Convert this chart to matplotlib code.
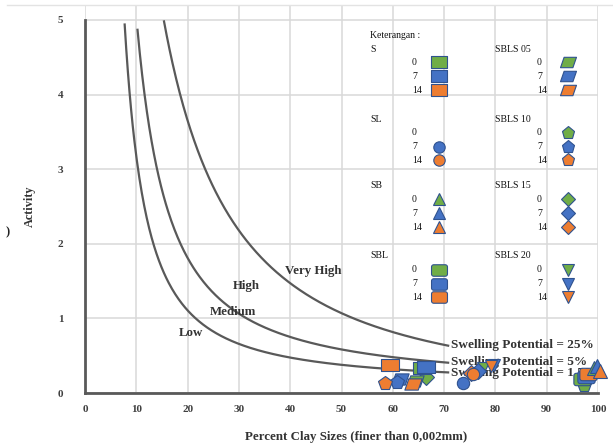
import numpy as np
import matplotlib
matplotlib.use("Agg")
import matplotlib.pyplot as plt
from matplotlib.path import Path
from matplotlib.lines import Line2D

# ---------------- data ----------------
soils = ['S', 'SL', 'SB', 'SBL', 'SBLS 05', 'SBLS 10', 'SBLS 15', 'SBLS 20']
days = ['0', '7', '14']
day_colors = ['#70AD47', '#4472C4', '#ED7D31']

clay = {
    'S':       [65.6, 66.5, 59.4],
    'SL':      [np.nan, 73.7, 75.7],
    'SB':      [99.3, 99.8, 100.3],
    'SBL':     [96.8, 97.6, 98.0],
    'SBLS 05': [64.3, 61.5, 63.9],
    'SBLS 10': [97.3, 60.8, 58.5],
    'SBLS 15': [66.5, 76.6, 75.2],
    'SBLS 20': [77.6, 79.7, 79.2],
}
activity = {
    'S':       [0.33, 0.35, 0.375],
    'SL':      [np.nan, 0.13, 0.26],
    'SB':      [0.33, 0.36, 0.29],
    'SBL':     [0.19, 0.22, 0.25],
    'SBLS 05': [0.16, 0.19, 0.12],
    'SBLS 10': [0.11, 0.15, 0.13],
    'SBLS 15': [0.22, 0.30, 0.27],
    'SBLS 20': [0.33, 0.38, 0.36],
}

# boundary curves
c15_clay = [7.7, 8.7, 10.4, 21.0, 42.1, 71.0]
c15_act = [5.0, 4.0, 3.0, 1.0, 0.47, 0.27]
c5_clay = [9.9, 11.7, 14.3, 30.3, 42.1, 71.0]
c5_act = [5.0, 4.0, 3.0, 1.05, 0.69, 0.41]
c25_clay = [15.1, 18.9, 23.5, 32.3, 42.1, 51.9, 71.0]
c25_act = [5.0, 4.0, 3.0, 2.0, 1.34, 1.0, 0.64]
curve_labels = ['Swelling Potential = 1.5%', 'Swelling Potential = 5%', 'Swelling Potential = 25%']

region_labels = ['Low', 'Medium', 'High', 'Very High']
region_x = [20.6, 28.8, 31.4, 44.4]
region_y = [0.81, 1.09, 1.43, 1.64]

x_ticks = [0, 10, 20, 30, 40, 50, 60, 70, 80, 90, 100]
y_ticks = [0, 1, 2, 3, 4, 5]

# ---------------- marker shapes ----------------
def rounded_rect(w=1.0, h=0.72, r=0.28, n=8):
    pts = []
    corners = [(w - r, h - r, 0), (-w + r, h - r, 90), (-w + r, -h + r, 180), (w - r, -h + r, 270)]
    for cx, cy, a0 in corners:
        t = np.radians(np.linspace(a0, a0 + 90, n))
        for tt in t:
            pts.append((cx + r * np.cos(tt), cy + r * np.sin(tt)))
    pts.append(pts[0])
    return Path(pts, closed=True)

rect = Path([(-1, -0.72), (1, -0.72), (1, 0.72), (-1, 0.72), (-1, -0.72)], closed=True)
para = Path([(-1, -0.65), (0.55, -0.65), (1, 0.65), (-0.55, 0.65), (-1, -0.65)], closed=True)
rrect = rounded_rect()

markers = {
    'S': (rect, 11.5), 'SL': ('o', 8.2), 'SB': ('^', 9.0), 'SBL': (rrect, 11.5),
    'SBLS 05': (para, 11.5), 'SBLS 10': ('p', 9.5), 'SBLS 15': ('D', 7.2), 'SBLS 20': ('v', 8.0),
}
EDGE = '#2F528F'

W, H = 613, 448
fig = plt.figure(figsize=(W / 100, H / 100), dpi=100)
ax = fig.add_axes([85 / W, 1 - 393 / H, (598 - 85) / W, (393 - 5) / H])
ax.set_xlim(0, 100)
ax.set_ylim(0, 5.2)

serif = 'Liberation Serif'
tick_col = '#404040'

ax.set_xticks(x_ticks)
ax.set_yticks(y_ticks)
ax.set_xticklabels([str(v) for v in x_ticks], fontfamily=serif, fontweight='bold', fontsize=8, color=tick_col)
ax.set_yticklabels([str(v) for v in y_ticks], fontfamily=serif, fontweight='bold', fontsize=8, color=tick_col)
ax.tick_params(axis='x', length=0, pad=8.5)
ax.tick_params(axis='y', length=0, pad=15.5)
ax.grid(True, color='#d9d9d9', linewidth=1.1, zorder=0)
ax.set_axisbelow(True)
for s in ['top', 'right']:
    ax.spines[s].set_visible(False)
for s in ['left', 'bottom']:
    ax.spines[s].set_color('#595959')
    ax.spines[s].set_linewidth(2.0)
ax.spines['left'].set_bounds(0, 5)

# curves
for cc, aa in [(c15_clay, c15_act), (c5_clay, c5_act), (c25_clay, c25_act)]:
    coef = np.polyfit(np.log(cc), np.log(aa), 2)
    xs = np.linspace(min(cc) - 0.3, max(cc), 400)
    ys = np.exp(np.polyval(coef, np.log(xs)))
    m = ys <= 5.0
    ax.plot(xs[m], ys[m], color='#595959', linewidth=1.6, zorder=2, solid_capstyle='butt')

for lab, cc, aa in zip(curve_labels, [c15_clay, c5_clay, c25_clay], [c15_act, c5_act, c25_act]):
    ax.text(cc[-1] + 0.3, aa[-1], lab, fontfamily=serif, fontweight='bold', fontsize=9.5,
            color='#333333', va='center', ha='left', zorder=3)

for lab, x, y in zip(region_labels, region_x, region_y):
    ax.text(x, y, lab, fontfamily=serif, fontweight='bold', fontsize=9.3, color='#333333',
            va='center', ha='center', zorder=3)

# data points
order = ['SBLS 20', 'SBLS 15', 'SL', 'SBLS 05', 'SBLS 10', 'S', 'SBL', 'SB']
for soil in order:
    mk, ms = markers[soil]
    for i in range(3):
        x = clay[soil][i]
        y = activity[soil][i]
        if np.isnan(x):
            continue
        ax.plot([x], [y], linestyle='none', marker=mk, markersize=ms * 1.08, markerfacecolor=day_colors[i],
                markeredgecolor=EDGE, markeredgewidth=0.8, zorder=5, clip_on=False)

# axis labels
fig.text(356 / W, 1 - 437 / H, 'Percent Clay Sizes (finer than 0,002mm)', fontfamily=serif,
         fontweight='bold', fontsize=9.3, color='#333333', ha='center', va='center')
fig.text(30 / W, 1 - 206 / H, 'Activity', fontfamily=serif, fontweight='bold', fontsize=8.8,
         color='#333333', ha='center', va='center', rotation=90)
fig.text(8 / W, 1 - 232 / H, ')', fontfamily=serif, fontweight='bold', fontsize=9, color='#222222',
         ha='center', va='center')

# top border line
fig.add_artist(Line2D([7 / W, 1], [1 - 5 / H, 1 - 5 / H], transform=fig.transFigure,
                      color='#e3e3e3', linewidth=1.0))

# ---------------- legend (Keterangan) ----------------
def P(px, py):
    return px / W, 1 - py / H

lfont = dict(fontfamily=serif, fontsize=7, color='#111111', va='center')
fig.text(*P(370, 35), 'Keterangan :', ha='left', **lfont)
headers_y = [49, 119, 186, 256]
row_off = [13.5, 27.5, 41]
left_soils = ['S', 'SL', 'SB', 'SBL']
right_soils = ['SBLS 05', 'SBLS 10', 'SBLS 15', 'SBLS 20']
for g in range(4):
    hy = headers_y[g]
    for soil, hx, nx, mx in [(left_soils[g], 370, 412, 439), (right_soils[g], 495, 537, 568)]:
        fig.text(*P(hx, hy), soil, ha='left', **lfont)
        mk, ms = markers[soil]
        for i in range(3):
            ry = hy + row_off[i]
            fig.text(*P(nx, ry), days[i], ha='left', **lfont)
            if soil == 'SL' and i == 0:
                continue
            fx, fy = P(mx, ry)
            fig.add_artist(Line2D([fx], [fy], transform=fig.transFigure, linestyle='none', marker=mk,
                                  markersize=ms, markerfacecolor=day_colors[i], markeredgecolor=EDGE,
                                  markeredgewidth=0.8))

fig.savefig('out.png', dpi=100)
